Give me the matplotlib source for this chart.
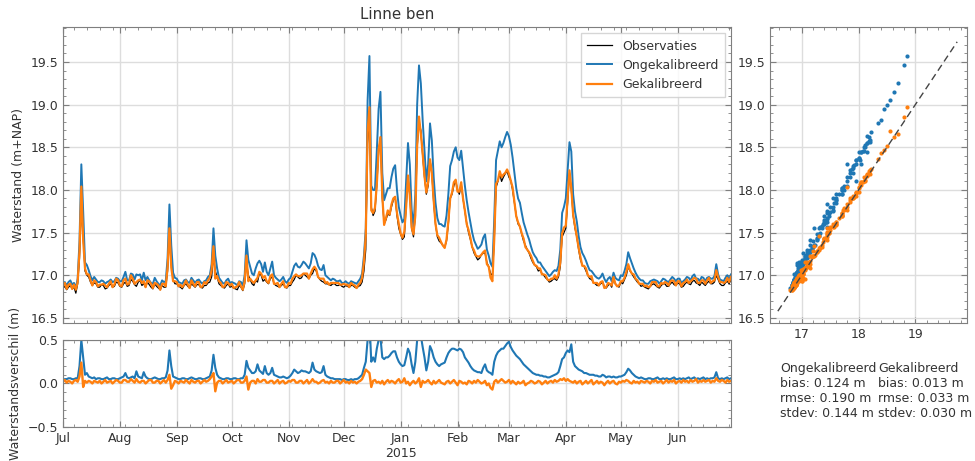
import numpy as np
import pandas as pd
import matplotlib
matplotlib.use("Agg")
import matplotlib.pyplot as plt
import matplotlib.dates as mdates
from matplotlib.ticker import AutoMinorLocator, MultipleLocator, FuncFormatter

# ---------------- data (daily values from 2014-07-01) ----------------
start_date = "2014-07-01"
step = "D"

observaties = [
    16.85, 16.87, 16.83, 16.86, 16.88, 16.84, 16.86, 16.79, 16.90, 17.20,
    17.80, 17.45, 17.05, 17.00, 16.98, 16.92, 16.88, 16.91, 16.90, 16.86,
    16.86, 16.89, 16.88, 16.84, 16.85, 16.88, 16.90, 16.86, 16.87, 16.92,
    16.91, 16.87, 16.86, 16.90, 16.92, 16.87, 16.88, 16.95, 16.93, 16.89,
    16.87, 16.92, 16.94, 16.88, 16.90, 16.86, 16.92, 16.89, 16.86, 16.84,
    16.90, 16.87, 16.85, 16.83, 16.88, 16.86, 16.86, 17.05, 17.45, 17.15,
    16.95, 16.90, 16.90, 16.87, 16.86, 16.84, 16.88, 16.90, 16.87, 16.85,
    16.90, 16.88, 16.86, 16.89, 16.89, 16.86, 16.85, 16.88, 16.88, 16.91,
    16.92, 16.98, 17.22, 17.05, 16.98, 16.90, 16.88, 16.86, 16.85, 16.88,
    16.90, 16.86, 16.87, 16.85, 16.84, 16.83, 16.88, 16.86, 16.82, 16.90,
    17.15, 17.00, 16.95, 16.90, 16.88, 16.94, 16.92, 17.02, 17.00, 16.93,
    16.95, 16.92, 16.90, 16.96, 16.98, 16.90, 16.88, 16.87, 16.86, 16.88,
    16.90, 16.86, 16.85, 16.88, 16.88, 16.92, 16.95, 17.00, 16.98, 16.96,
    16.97, 17.02, 17.00, 16.98, 16.96, 17.00, 17.02, 17.08, 17.05, 16.98,
    16.95, 16.93, 16.92, 16.90, 16.90, 16.89, 16.88, 16.90, 16.90, 16.88,
    16.88, 16.89, 16.87, 16.86, 16.88, 16.87, 16.86, 16.88, 16.88, 16.86,
    16.85, 16.87, 16.88, 16.92, 17.05, 17.30, 18.55, 18.85, 17.80, 17.70,
    17.75, 18.05, 18.45, 18.62, 17.90, 17.60, 17.65, 17.72, 17.70, 17.80,
    17.88, 17.92, 17.70, 17.55, 17.48, 17.42, 17.45, 17.80, 18.15, 17.95,
    17.55, 17.45, 17.70, 18.50, 18.80, 18.70, 18.40, 18.15, 17.95, 18.05,
    18.35, 18.20, 17.85, 17.60, 17.45, 17.40, 17.38, 17.35, 17.33, 17.40,
    17.60, 17.90, 17.95, 18.05, 18.11, 18.00, 17.95, 18.07, 17.90, 17.75,
    17.61, 17.50, 17.42, 17.33, 17.26, 17.22, 17.18, 17.20, 17.24, 17.26,
    17.26, 17.15, 17.10, 17.02, 17.00, 17.40, 18.03, 18.10, 18.19, 18.10,
    18.15, 18.19, 18.22, 18.15, 18.11, 18.00, 17.85, 17.70, 17.60, 17.57,
    17.48, 17.40, 17.35, 17.30, 17.26, 17.20, 17.15, 17.12, 17.10, 17.05,
    17.06, 17.02, 17.00, 16.97, 16.95, 16.92, 16.93, 16.95, 16.96, 16.94,
    16.98, 17.10, 17.45, 17.50, 17.55, 17.85, 18.20, 18.00, 17.70, 17.55,
    17.45, 17.30, 17.18, 17.12, 17.10, 17.05, 17.00, 16.96, 16.95, 16.92,
    16.90, 16.88, 16.88, 16.90, 16.92, 16.87, 16.85, 16.88, 16.90, 16.86,
    16.95, 16.90, 16.88, 16.86, 16.92, 16.90, 16.95, 17.00, 17.10, 17.05,
    17.02, 16.98, 16.95, 16.92, 16.90, 16.87, 16.88, 16.86, 16.85, 16.84,
    16.87, 16.89, 16.90, 16.88, 16.86, 16.85, 16.88, 16.90, 16.90, 16.87,
    16.87, 16.90, 16.92, 16.89, 16.88, 16.91, 16.90, 16.86, 16.87, 16.90,
    16.92, 16.90, 16.89, 16.93, 16.94, 16.91, 16.90, 16.88, 16.92, 16.90,
    16.88, 16.91, 16.93, 16.90, 16.90, 16.92, 17.00, 16.95, 16.90, 16.88,
    16.88, 16.91, 16.93, 16.90, 16.95,
]

verschil_ongekalibreerd = [
    0.04, 0.05, 0.05, 0.06, 0.06, 0.05, 0.05, 0.06, 0.06, 0.20,
    0.50, 0.30, 0.10, 0.12, 0.08, 0.07, 0.06, 0.07, 0.05, 0.06,
    0.06, 0.05, 0.05, 0.06, 0.07, 0.05, 0.05, 0.06, 0.06, 0.05,
    0.05, 0.06, 0.07, 0.08, 0.12, 0.07, 0.06, 0.07, 0.08, 0.06,
    0.14, 0.08, 0.07, 0.06, 0.13, 0.08, 0.06, 0.05, 0.05, 0.06,
    0.07, 0.06, 0.05, 0.05, 0.06, 0.06, 0.07, 0.15, 0.38, 0.20,
    0.08, 0.07, 0.06, 0.05, 0.05, 0.06, 0.06, 0.05, 0.05, 0.06,
    0.07, 0.06, 0.05, 0.05, 0.06, 0.06, 0.05, 0.05, 0.06, 0.07,
    0.08, 0.15, 0.33, 0.18, 0.10, 0.07, 0.06, 0.05, 0.05, 0.06,
    0.06, 0.05, 0.05, 0.06, 0.06, 0.05, 0.05, 0.06, 0.06, 0.10,
    0.26, 0.18, 0.15, 0.12, 0.12, 0.14, 0.22, 0.15, 0.13, 0.11,
    0.20, 0.12, 0.10, 0.12, 0.18, 0.10, 0.09, 0.08, 0.07, 0.07,
    0.08, 0.07, 0.06, 0.07, 0.09, 0.12, 0.16, 0.14, 0.12, 0.13,
    0.15, 0.14, 0.14, 0.13, 0.12, 0.14, 0.24, 0.16, 0.14, 0.13,
    0.12, 0.13, 0.20, 0.10, 0.08, 0.07, 0.06, 0.06, 0.05, 0.05,
    0.05, 0.05, 0.04, 0.05, 0.05, 0.04, 0.04, 0.05, 0.04, 0.05,
    0.05, 0.06, 0.08, 0.10, 0.18, 0.25, 0.50, 0.72, 0.25, 0.30,
    0.25, 0.40, 0.50, 0.53, 0.30, 0.28, 0.30, 0.30, 0.32, 0.35,
    0.37, 0.37, 0.30, 0.25, 0.22, 0.20, 0.21, 0.30, 0.40, 0.35,
    0.22, 0.12, 0.25, 0.50, 0.66, 0.55, 0.42, 0.30, 0.15, 0.25,
    0.43, 0.38, 0.30, 0.25, 0.22, 0.20, 0.22, 0.23, 0.24, 0.30,
    0.35, 0.38, 0.40, 0.40, 0.39, 0.38, 0.40, 0.39, 0.36, 0.30,
    0.27, 0.24, 0.20, 0.17, 0.15, 0.14, 0.13, 0.13, 0.12, 0.18,
    0.22, 0.15, 0.13, 0.12, 0.10, 0.25, 0.32, 0.36, 0.38, 0.40,
    0.40, 0.43, 0.46, 0.48, 0.42, 0.38, 0.35, 0.32, 0.30, 0.28,
    0.25, 0.22, 0.20, 0.18, 0.16, 0.14, 0.12, 0.11, 0.10, 0.10,
    0.09, 0.09, 0.08, 0.08, 0.07, 0.07, 0.08, 0.09, 0.10, 0.11,
    0.13, 0.20, 0.28, 0.30, 0.35, 0.38, 0.36, 0.45, 0.25, 0.20,
    0.18, 0.16, 0.15, 0.14, 0.12, 0.12, 0.11, 0.10, 0.10, 0.10,
    0.09, 0.09, 0.08, 0.08, 0.10, 0.09, 0.07, 0.08, 0.08, 0.07,
    0.08, 0.07, 0.07, 0.08, 0.08, 0.09, 0.10, 0.13, 0.17, 0.15,
    0.12, 0.10, 0.08, 0.07, 0.06, 0.07, 0.06, 0.05, 0.05, 0.06,
    0.06, 0.05, 0.05, 0.06, 0.07, 0.05, 0.05, 0.06, 0.05, 0.06,
    0.05, 0.05, 0.06, 0.07, 0.05, 0.05, 0.06, 0.05, 0.06, 0.05,
    0.06, 0.07, 0.05, 0.06, 0.07, 0.05, 0.06, 0.05, 0.06, 0.07,
    0.05, 0.06, 0.05, 0.06, 0.06, 0.07, 0.13, 0.06, 0.05, 0.06,
    0.05, 0.06, 0.07, 0.05, 0.06,
]

verschil_gekalibreerd = [
    0.02, 0.04, 0.01, 0.03, 0.02, 0.00, 0.03, 0.04, 0.02, 0.08,
    0.24, -0.04, 0.03, 0.01, 0.03, 0.02, 0.00, 0.03, 0.02, 0.01,
    0.03, 0.00, 0.02, 0.04, 0.01, 0.02, 0.03, 0.00, 0.02, 0.04,
    0.03, 0.01, 0.01, 0.04, 0.04, 0.02, 0.02, 0.05, 0.03, 0.01,
    0.05, 0.02, 0.01, 0.03, 0.03, 0.00, 0.02, 0.04, 0.04, 0.01,
    0.01, 0.03, 0.03, 0.00, 0.02, 0.04, 0.01, 0.04, 0.10, -0.06,
    -0.02, 0.03, 0.02, 0.00, 0.03, 0.02, 0.01, 0.04, 0.02, 0.00,
    0.04, 0.02, 0.01, 0.03, 0.03, 0.00, 0.02, 0.04, 0.02, 0.03,
    0.05, 0.08, 0.12, -0.09, 0.01, 0.03, 0.03, 0.00, 0.02, 0.04,
    0.01, 0.02, 0.03, 0.00, 0.02, 0.04, 0.04, 0.01, 0.01, 0.03,
    0.08, -0.07, 0.01, 0.03, 0.03, 0.00, 0.05, 0.02, 0.02, 0.04,
    0.04, 0.01, 0.01, 0.03, 0.03, 0.00, 0.02, 0.04, 0.00, 0.02,
    0.03, 0.00, 0.01, 0.03, 0.02, 0.04, 0.04, 0.01, 0.01, 0.03,
    0.03, 0.00, 0.02, 0.04, 0.00, 0.02, 0.05, 0.02, 0.02, 0.00,
    0.01, 0.03, 0.04, 0.01, 0.02, 0.00, 0.03, 0.01, 0.01, 0.03,
    0.03, 0.00, 0.02, 0.04, 0.01, 0.02, 0.00, 0.03, 0.01, 0.02,
    0.00, 0.02, 0.03, 0.05, 0.10, 0.16, 0.14, 0.12, -0.04, 0.03,
    0.04, 0.01, 0.02, 0.00, 0.03, -0.01, 0.02, 0.04, 0.01, 0.03,
    0.02, 0.00, 0.03, 0.05, 0.01, 0.02, 0.06, 0.00, 0.02, -0.02,
    0.01, 0.03, 0.00, 0.02, 0.06, -0.04, 0.03, 0.01, 0.02, 0.04,
    0.01, -0.01, 0.03, 0.00, 0.02, 0.04, 0.01, 0.00, -0.01, 0.02,
    0.03, 0.00, 0.02, 0.04, 0.01, -0.02, 0.03, 0.02, 0.00, 0.01,
    -0.01, 0.03, 0.02, 0.00, 0.03, 0.01, 0.04, 0.02, 0.00, 0.01,
    0.03, -0.02, 0.00, -0.05, -0.07, 0.02, 0.04, 0.01, 0.03, 0.05,
    0.03, 0.01, 0.02, 0.04, 0.00, 0.03, 0.01, -0.01, 0.02, 0.00,
    0.01, 0.03, -0.02, 0.00, 0.01, 0.03, 0.02, 0.00, 0.01, 0.03,
    0.02, -0.01, 0.01, 0.03, 0.00, 0.02, 0.03, 0.01, 0.04, 0.02,
    0.03, 0.05, 0.04, 0.06, 0.03, 0.05, 0.03, 0.02, 0.01, 0.03,
    0.00, 0.02, 0.03, -0.01, 0.01, 0.03, 0.00, 0.02, 0.04, -0.01,
    0.01, 0.03, 0.00, 0.02, 0.01, -0.02, 0.01, 0.03, 0.00, 0.02,
    0.03, 0.00, -0.01, 0.02, 0.01, 0.03, 0.02, 0.04, 0.03, 0.01,
    0.00, 0.03, 0.01, 0.02, 0.00, 0.03, 0.02, 0.01, 0.03, 0.02,
    0.00, 0.03, 0.02, 0.04, 0.01, 0.02, 0.03, 0.00, 0.02, 0.04,
    0.01, 0.03, 0.02, 0.04, 0.00, 0.02, 0.03, 0.01, 0.04, 0.02,
    0.03, 0.01, 0.04, 0.02, 0.03, 0.05, 0.01, 0.03, 0.02, 0.04,
    0.02, 0.03, 0.04, 0.01, 0.03, 0.02, 0.06, 0.03, 0.02, 0.04,
    0.03, 0.01, 0.04, 0.02, 0.03,
]

title = "Linne ben"
legend_labels = ["Observaties", "Ongekalibreerd", "Gekalibreerd"]
stats_ongekalibreerd = "Ongekalibreerd\nbias: 0.124 m\nrmse: 0.190 m\nstdev: 0.144 m"
stats_gekalibreerd = "Gekalibreerd\nbias: 0.013 m\nrmse: 0.033 m\nstdev: 0.030 m"

# ---------------- derived ----------------
n = min(len(observaties), len(verschil_ongekalibreerd), len(verschil_gekalibreerd))
obs = np.array(observaties[:n])
d_ong = np.array(verschil_ongekalibreerd[:n])
d_gek = np.array(verschil_gekalibreerd[:n])
ong = obs + d_ong
gek = obs + d_gek
dates = pd.date_range(start_date, periods=n, freq=step)

# ---------------- style ----------------
TXT = "#333333"
SPINE = "#7f7f7f"
GRID = "#dddddd"
plt.rcParams.update({
    "font.family": ["DejaVu Sans"],
    "font.size": 9,
    "text.color": TXT,
    "axes.labelcolor": TXT,
    "xtick.color": TXT,
    "ytick.color": TXT,
    "axes.edgecolor": SPINE,
})

fig = plt.figure(figsize=(9.75, 4.61), dpi=100)
ax = fig.add_axes([0.0646, 0.2993, 0.6851, 0.6421])
axd = fig.add_axes([0.0646, 0.0738, 0.6851, 0.1887], sharex=ax)
axs = fig.add_axes([0.7897, 0.2993, 0.2021, 0.6421], sharey=ax)

def style(a):
    a.tick_params(which="both", direction="in", top=True, right=True,
                  color=SPINE)
    a.tick_params(which="major", length=4)
    a.tick_params(which="minor", length=2)
    a.grid(True, which="major", color=GRID, linewidth=1)
    a.set_axisbelow(True)
    for s in a.spines.values():
        s.set_color(SPINE)

# main panel
ax.plot(dates, obs, color="black", lw=0.9, label=legend_labels[0])
ax.plot(dates, ong, color="#1f77b4", lw=1.4, label=legend_labels[1])
ax.plot(dates, gek, color="#ff7f0e", lw=1.6, label=legend_labels[2])
ax.set_ylim(16.44, 19.91)
ax.yaxis.set_major_locator(MultipleLocator(0.5))
ax.yaxis.set_minor_locator(AutoMinorLocator(5))
ax.set_ylabel("Waterstand (m+NAP)")
ax.set_title(title, fontsize=10.8, color=TXT)
style(ax)
plt.setp(ax.get_xticklabels(), visible=False)
leg = ax.legend(loc="upper right", fontsize=9, frameon=True, fancybox=False,
                edgecolor="#cccccc", borderpad=0.5)

# difference panel
axd.plot(dates, d_ong, color="#1f77b4", lw=1.5)
axd.plot(dates, d_gek, color="#ff7f0e", lw=1.7)
axd.set_ylim(-0.5, 0.5)
axd.yaxis.set_major_locator(MultipleLocator(0.5))
axd.yaxis.set_minor_locator(AutoMinorLocator(5))
axd.set_ylabel("Waterstandsverschil (m)")
axd.set_xlim(dates[0], dates[-1])
axd.xaxis.set_major_locator(mdates.MonthLocator())
axd.xaxis.set_minor_locator(mdates.WeekdayLocator(byweekday=mdates.MO))

def month_fmt(x, pos):
    d = mdates.num2date(x)
    s = d.strftime("%b")
    if d.month == 1:
        s += "\n" + d.strftime("%Y")
    return s

axd.xaxis.set_major_formatter(FuncFormatter(month_fmt))
style(axd)

# scatter panel
axs.scatter(obs, ong, s=9, color="#1f77b4", linewidths=0)
axs.scatter(obs, gek, s=9, color="#ff7f0e", linewidths=0)
lo, hi = ax.get_ylim()
axs.set_xlim(lo, hi)
span = hi - lo
ref = np.array([lo + 0.04 * span, hi - 0.05 * span])
axs.plot(ref, ref, color="#444444", lw=1, ls=(0, (5, 3)))
axs.xaxis.set_major_locator(MultipleLocator(1))
axs.xaxis.set_minor_locator(AutoMinorLocator(5))
style(axs)
axs.tick_params(axis="y", labelleft=True)

# stats text
fig.text(780 / 975, 1 - 362 / 461, stats_ongekalibreerd, va="top", ha="left",
         fontsize=9, color=TXT)
fig.text(878 / 975, 1 - 362 / 461, stats_gekalibreerd, va="top", ha="left",
         fontsize=9, color=TXT)

fig.savefig("out.png", dpi=100)
